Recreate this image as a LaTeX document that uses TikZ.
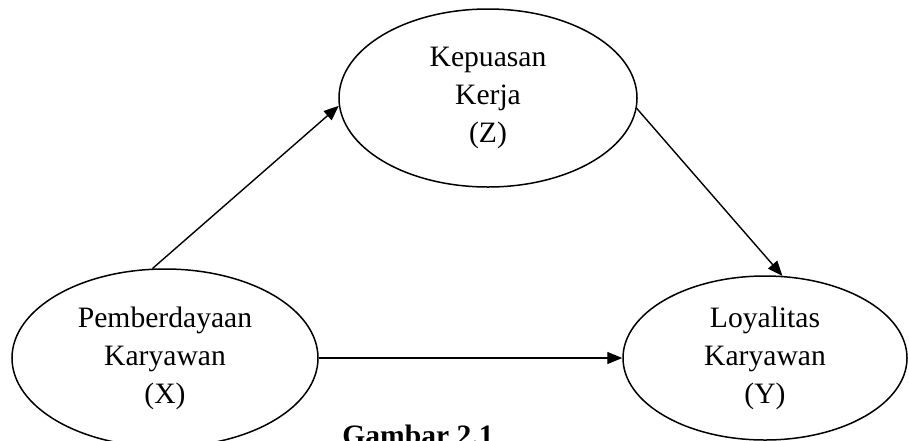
\documentclass[tikz,border=0pt]{standalone}
\usepackage{fontspec}
\setmainfont{Liberation Serif}
\usetikzlibrary{shapes.geometric,arrows.meta}
\begin{document}
\begin{tikzpicture}[
                    x=0.5pt, y=-0.5pt,
                    every node/.style={font=\fontsize{14.8}{19}\selectfont, align=center, inner sep=0pt},
                    var/.style={ellipse, draw, line width=0.75pt},
                    link/.style={-{Triangle[length=7.5pt,width=6pt]}, line width=0.7pt},
                ]
                \useasboundingbox (0,0) rectangle (909,440);
                \node[var, minimum width=149pt, minimum height=89pt] (Z) at (488,98) {Kepuasan\\Kerja\\(Z)};
                \node[var, minimum width=153pt, minimum height=89pt] (X) at (165,358) {Pemberdayaan\\Karyawan\\(X)};
                \node[var, minimum width=142pt, minimum height=82pt] (Y) at (765,358) {Loyalitas\\Karyawan\\(Y)};
                \draw[link] (X.98) -- (Z.183);
                \draw[link] (Z.-4) -- (Y.78);
                \draw[link] (X.east) -- (Y.west);
                \node[font=\fontsize{14.8}{19}\selectfont\bfseries, anchor=north] (cap) at (418,425) {Gambar 2.1};
\end{tikzpicture}
\end{document}
